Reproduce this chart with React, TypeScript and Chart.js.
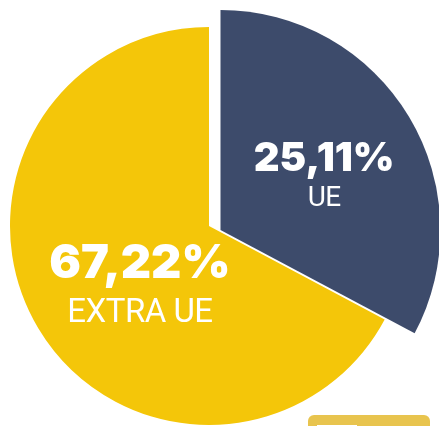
import React, { useEffect, useRef } from "react";
import { Chart, registerables } from "chart.js";

Chart.register(...registerables);

// ---- data ----
const categories = ["UE", "EXTRA UE"];
// UE slice as drawn in the reference covers the remainder of the circle (100 - 67,22)
const sliceValues = [32.78, 67.22];
const labelPercents = ["25,11%", "67,22%"];

// ---- style ----
const sliceColors = ["#3D4B6B", "#F4C609"];
const UE_SHIFT = { x: 11.5, y: 4 };
const UE_RADIUS_SCALE = 1.105;
const labelStyle = [
  { f: 0.55, pctDy: -9, nameDy: 31, pctSize: 40, nameSize: 28 },
  { f: 0.405, pctDy: -4, nameDy: 46, pctSize: 47, nameSize: 33 },
];

const explodePlugin = {
  id: "explodeUE",
  afterDatasetsUpdate(chart: any) {
    const meta = chart.getDatasetMeta(0);
    const arc = meta.data[0];
    if (!arc) return;
    arc.x += UE_SHIFT.x;
    arc.y += UE_SHIFT.y;
    arc.outerRadius *= UE_RADIUS_SCALE;
  },
};

const labelPlugin = {
  id: "sliceLabels",
  afterDatasetsDraw(chart: any) {
    const ctx = chart.ctx;
    const meta = chart.getDatasetMeta(0);
    meta.data.forEach((arc: any, i: number) => {
      const st = labelStyle[i];
      const mid = (arc.startAngle + arc.endAngle) / 2;
      const ax = arc.x + Math.cos(mid) * st.f * arc.outerRadius;
      const ay = arc.y + Math.sin(mid) * st.f * arc.outerRadius;
      ctx.save();
      ctx.fillStyle = "#ffffff";
      ctx.textAlign = "center";
      ctx.textBaseline = "middle";
      ctx.font = `900 ${st.pctSize}px Inter, "Open Sans", sans-serif`;
      ctx.fillText(labelPercents[i], ax, ay + st.pctDy);
      ctx.font = `400 ${st.nameSize}px Roboto, "Noto Sans", sans-serif`;
      try { (ctx as any).letterSpacing = "-0.5px"; } catch (e) {}
      ctx.fillText(categories[i], ax, ay + st.nameDy);
      ctx.restore();
    });
  },
};

export default function App() {
  const ref = useRef<HTMLCanvasElement | null>(null);

  useEffect(() => {
    if (!ref.current) return;
    const chart = new Chart(ref.current, {
      type: "pie",
      data: {
        labels: categories,
        datasets: [
          {
            data: sliceValues,
            backgroundColor: sliceColors,
            borderWidth: 0,
          },
        ],
      },
      options: {
        animation: false,
        responsive: false,
        devicePixelRatio: 1,
        events: [],
        layout: { padding: { left: 10, right: 31, top: 27, bottom: 1 } },
        plugins: {
          legend: { display: false },
          tooltip: { enabled: false },
        },
      },
      plugins: [explodePlugin, labelPlugin],
    });
    return () => chart.destroy();
  }, []);

  return (
    <div
      style={{
        position: "fixed",
        left: 0,
        top: 0,
        width: 439,
        height: 426,
        background: "#ffffff",
        overflow: "hidden",
      }}
    >
      <canvas ref={ref} width={439} height={426} style={{ display: "block" }} />
      <div
        style={{
          position: "absolute",
          left: 308,
          top: 415,
          width: 122,
          height: 24,
          borderRadius: 6,
          background: "#E8C44E",
        }}
      >
        <div
          style={{
            position: "absolute",
            left: 9,
            top: 10,
            width: 40,
            height: 12,
            background: "#ffffff",
          }}
        />
      </div>
    </div>
  );
}
